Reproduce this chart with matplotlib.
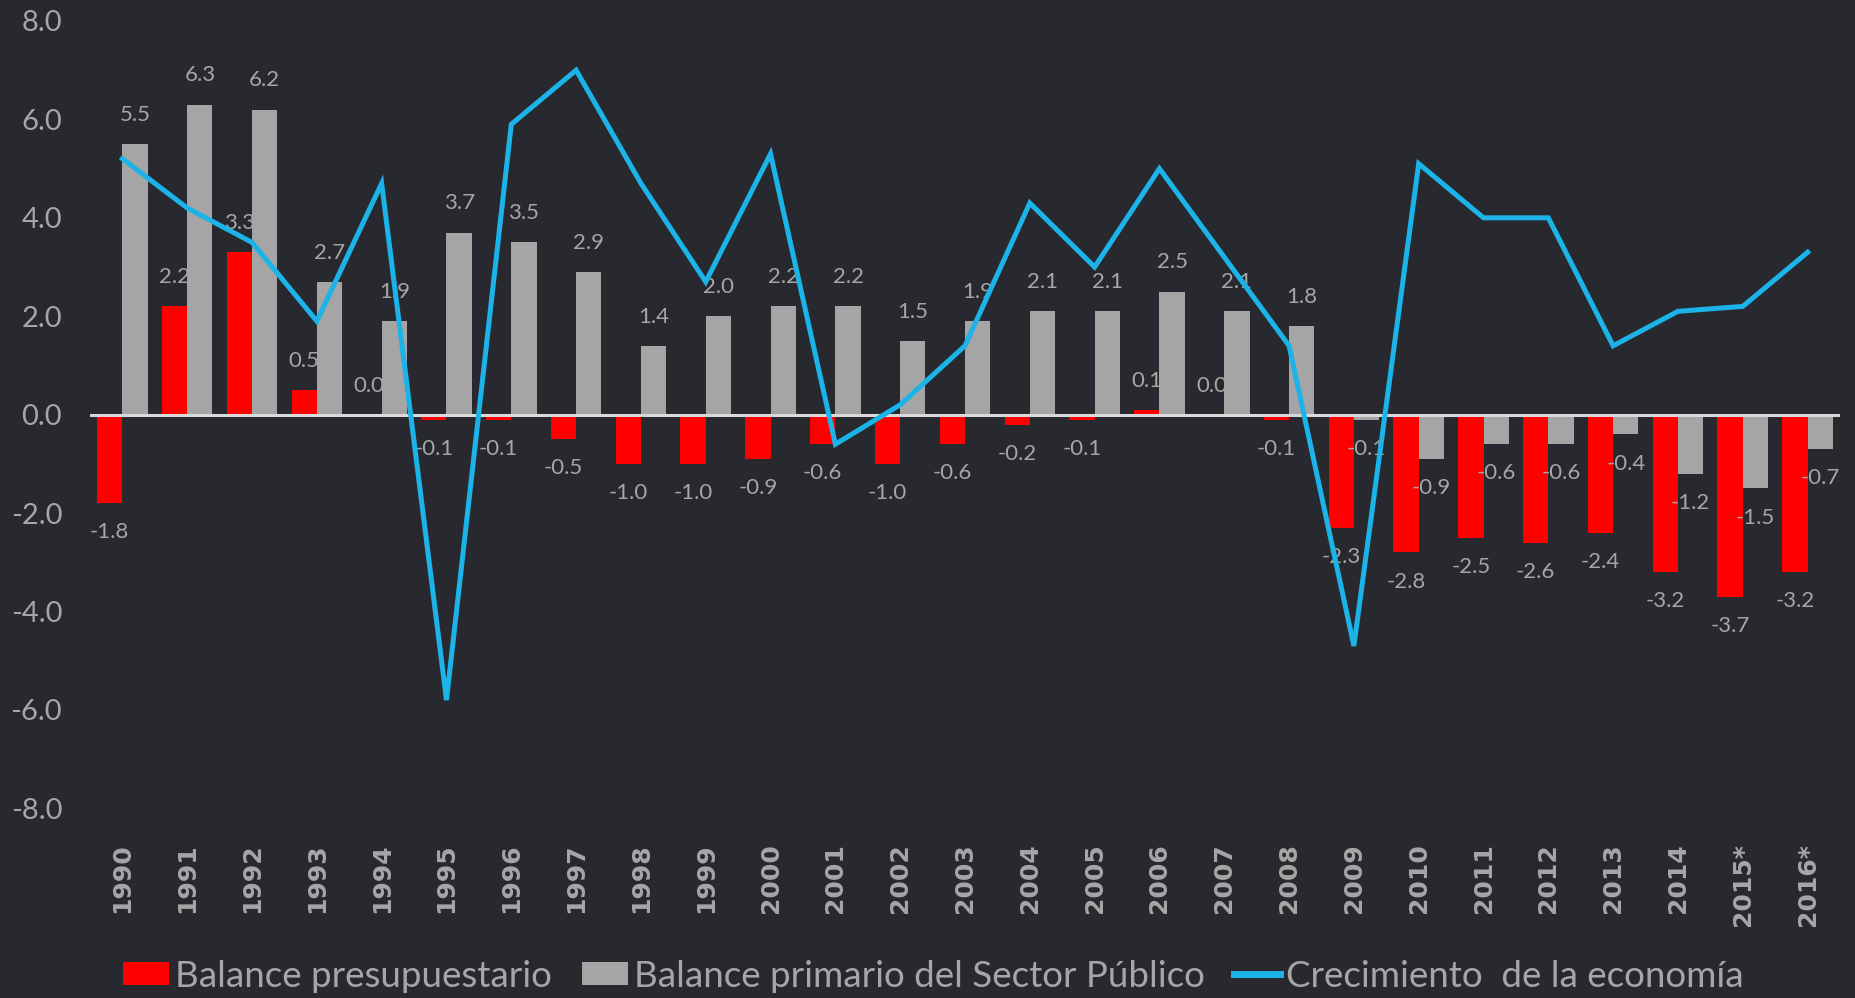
import numpy as np
import matplotlib.pyplot as plt

years = ['1990', '1991', '1992', '1993', '1994', '1995', '1996', '1997', '1998', '1999',
         '2000', '2001', '2002', '2003', '2004', '2005', '2006', '2007', '2008', '2009',
         '2010', '2011', '2012', '2013', '2014', '2015*', '2016*']
balance_presupuestario = [-1.8, 2.2, 3.3, 0.5, 0.0, -0.1, -0.1, -0.5, -1.0, -1.0,
                          -0.9, -0.6, -1.0, -0.6, -0.2, -0.1, 0.1, 0.0, -0.1, -2.3,
                          -2.8, -2.5, -2.6, -2.4, -3.2, -3.7, -3.2]
balance_primario = [5.5, 6.3, 6.2, 2.7, 1.9, 3.7, 3.5, 2.9, 1.4, 2.0,
                    2.2, 2.2, 1.5, 1.9, 2.1, 2.1, 2.5, 2.1, 1.8, -0.1,
                    -0.9, -0.6, -0.6, -0.4, -1.2, -1.5, -0.7]
crecimiento = [5.2, 4.2, 3.5, 1.9, 4.7, -5.8, 5.9, 7.0, 4.7, 2.7,
               5.3, -0.6, 0.2, 1.4, 4.3, 3.0, 5.0, 3.2, 1.4, -4.7,
               5.1, 4.0, 4.0, 1.4, 2.1, 2.2, 3.3]

bg = '#27292F'
txt = '#A6A6A6'
num_font = ['Lato', 'DejaVu Sans']

fig = plt.figure(figsize=(18.56, 9.98), dpi=100, facecolor=bg)
ax = fig.add_axes([90 / 1856, 0.190, (1840 - 90) / 1856, 0.789])
ax.set_facecolor(bg)

x = np.arange(len(years))
w = 0.39
b1 = ax.bar(x - w / 2, balance_presupuestario, w, color='#FF0000', zorder=2,
            label='Balance presupuestario')
b2 = ax.bar(x + w / 2, balance_primario, w, color='#A5A5A5', zorder=2,
            label='Balance primario del Sector Público')
ax.axhline(0, color='#D9D9D9', lw=2.2, zorder=3)
ln, = ax.plot(x, crecimiento, color='#1BB3E8', lw=3.6, zorder=5,
              solid_joinstyle='miter', label='Crecimiento  de la economía')

for xs, vals in [(x - w / 2, balance_presupuestario), (x + w / 2, balance_primario)]:
    for xi, v in zip(xs, vals):
        ax.annotate(f'{v:.1f}', (xi, v), xytext=(0, 21 if v >= 0 else -21),
                    textcoords='offset points', ha='center', va='center',
                    color=txt, fontsize=16, family=num_font, zorder=4)

ax.set_xlim(-0.5, len(years) - 0.5)
ax.set_ylim(-8, 8)
yt = np.arange(-8, 8.1, 2)
ax.set_yticks(yt, [f'{v:.1f}' for v in yt], fontsize=21, family=num_font, color=txt)
ax.set_xticks(x, years, rotation=90, fontsize=18, fontweight='bold', color=txt, va='top')
ax.tick_params(axis='x', length=0, pad=25)
ax.tick_params(axis='y', length=0, pad=20)
for s in ax.spines.values():
    s.set_visible(False)

leg = fig.legend(handles=[b1, b2, ln], loc='center', bbox_to_anchor=(0.503, 0.022),
                 ncol=3, frameon=False, handlelength=1.25, handleheight=0.6,
                 handletextpad=0.17, columnspacing=0.8,
                 prop={'family': num_font, 'size': 26.5})
for t in leg.get_texts():
    t.set_color(txt)
leg.get_lines()[0].set_linewidth(5)

fig.savefig('out.png', dpi=100, facecolor=bg)
